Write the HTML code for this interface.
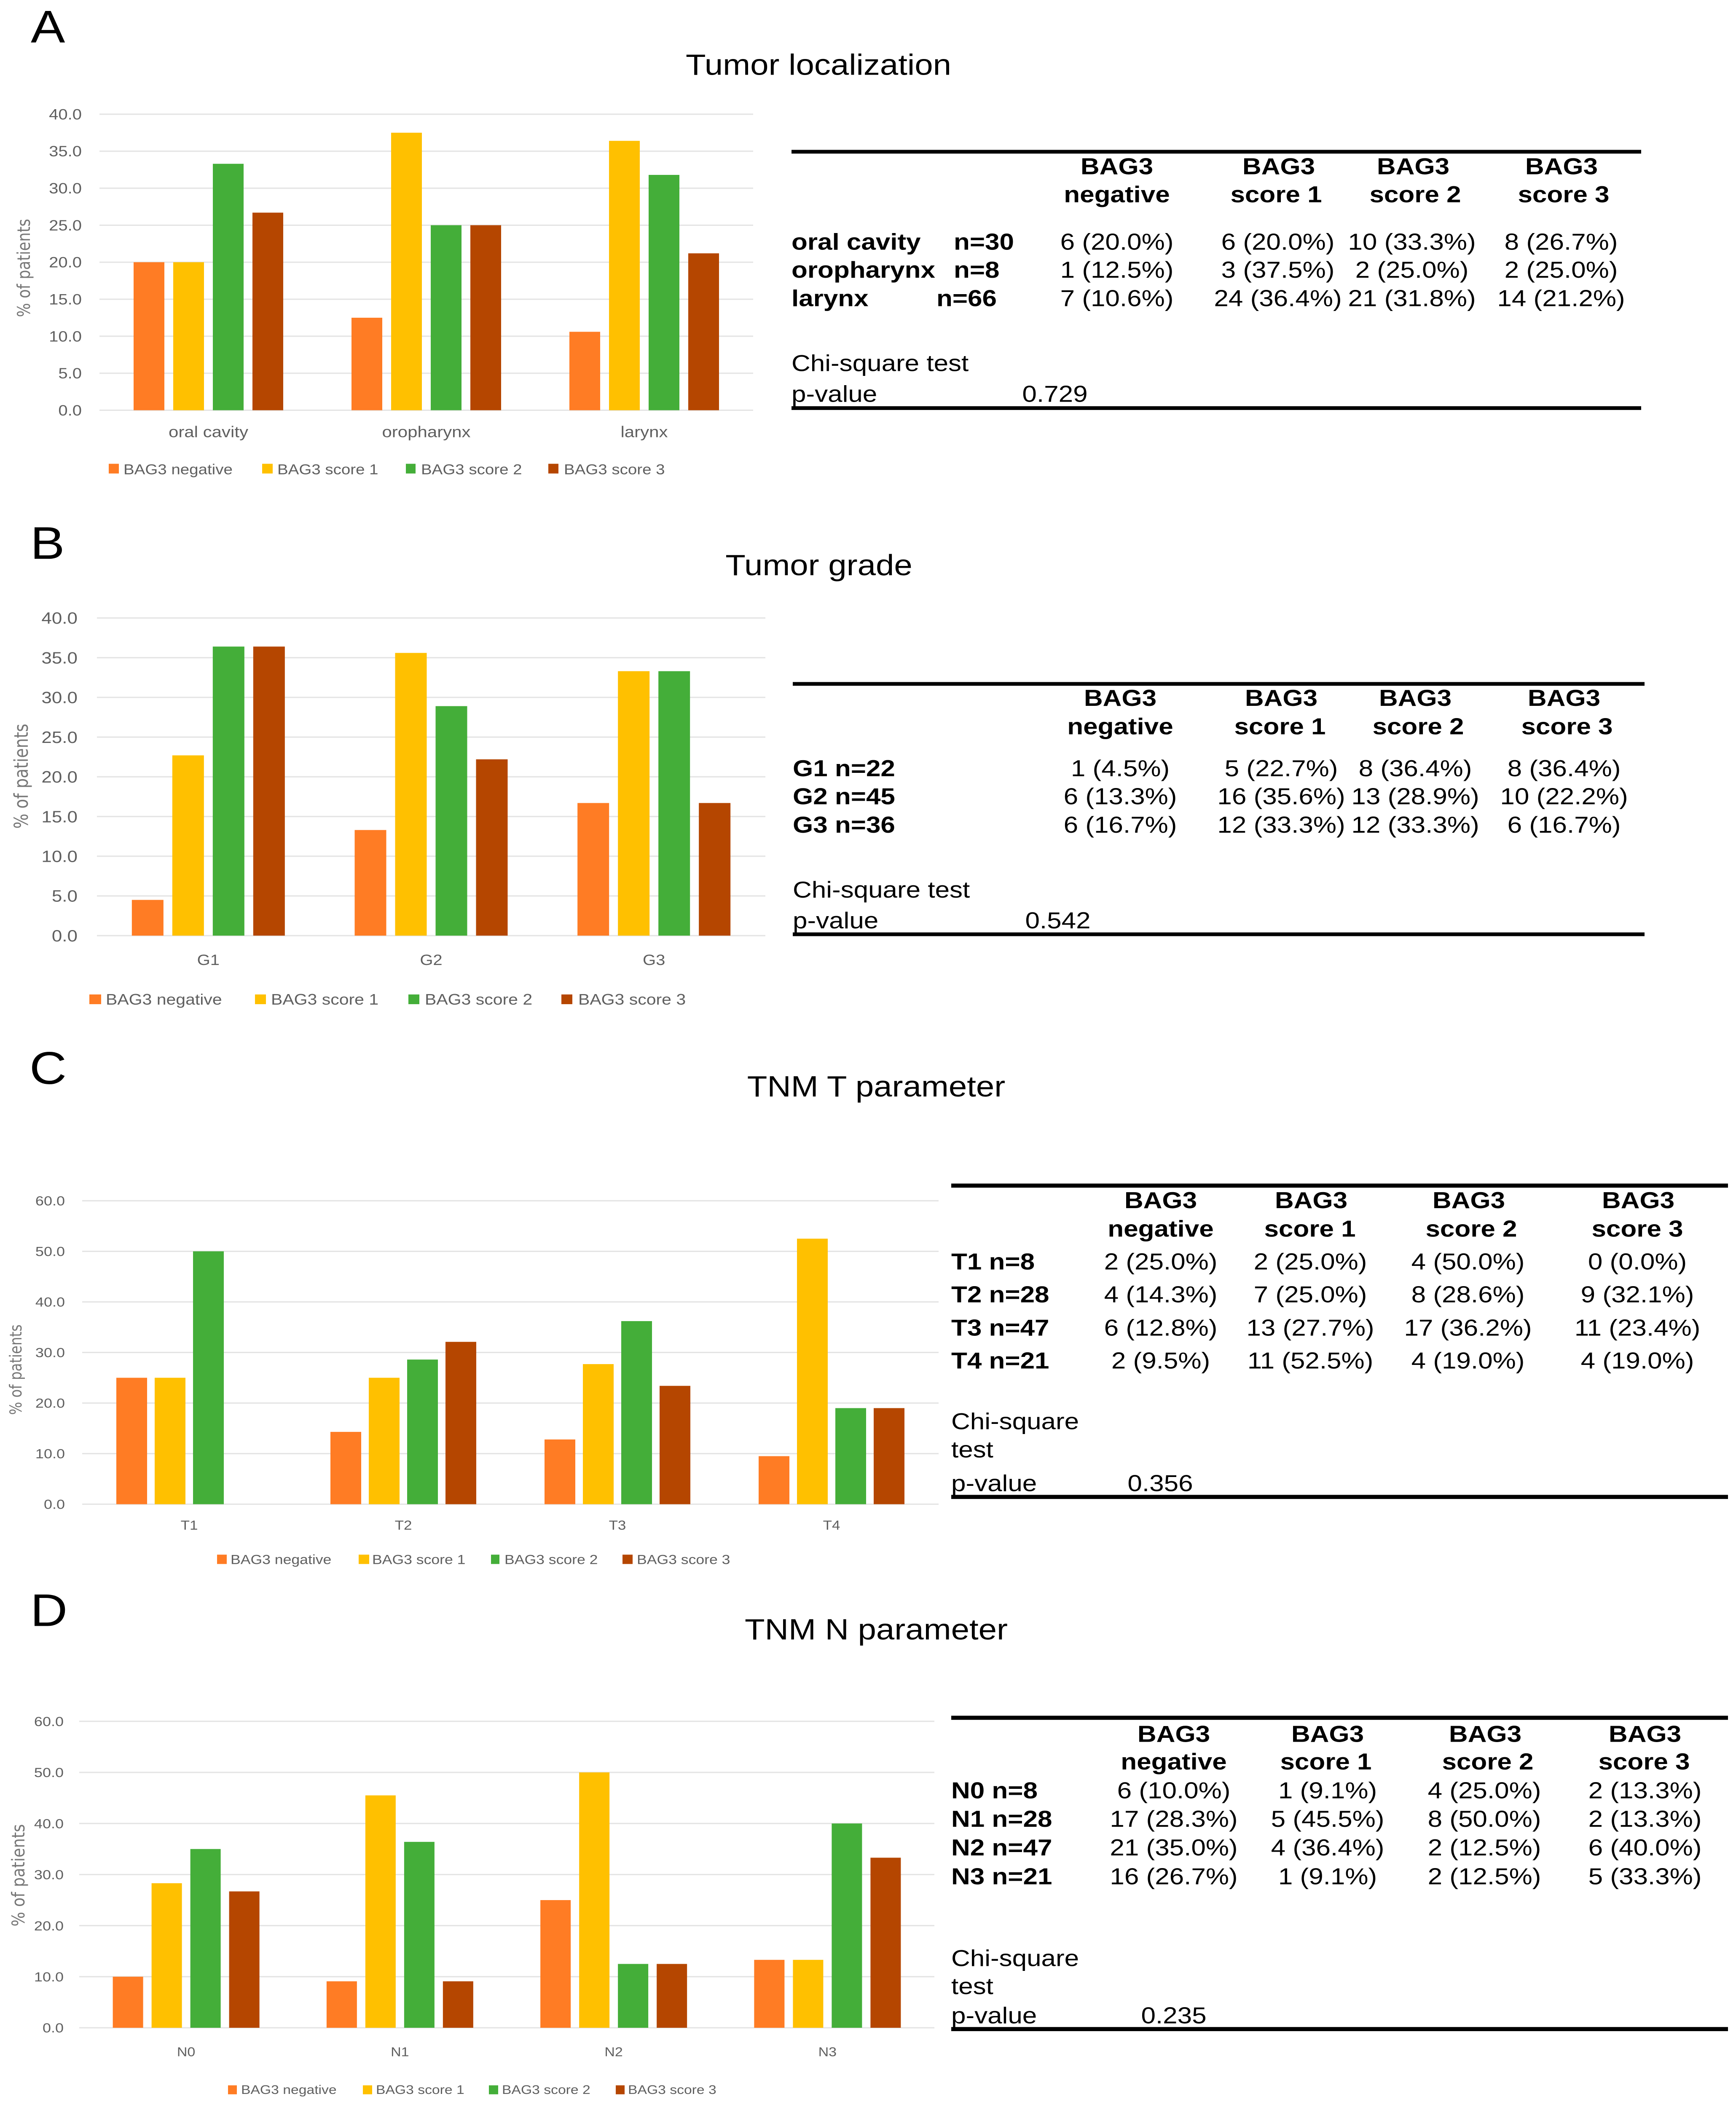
<!DOCTYPE html>
<html lang="en">
<head>
<meta charset="utf-8">
<title>BAG3 expression by tumor parameters</title>
<style>
html,body{margin:0;padding:0;background:#fff;width:100%;height:100%;overflow:hidden;}
svg{display:block;position:absolute;left:0;top:0;width:100%;height:100%;}
text{font-family:"Liberation Sans",Arial,sans-serif;fill:#000;}
.panel{font-size:122px;}
.title{font-size:78px;text-anchor:middle;}
.h{font-size:62px;font-weight:700;text-anchor:middle;}
.r{font-size:62px;font-weight:700;}
.c{font-size:62px;text-anchor:middle;}
.l{font-size:62px;}
.rule{fill:#000;}
.tick,.cat,.leg{fill:#5f5f5f;}
.ytitle{font-family:"DejaVu Sans",sans-serif;fill:#777;text-anchor:middle;}
</style>
</head>
<body>
<svg xmlns="http://www.w3.org/2000/svg" viewBox="0 0 4119 5638" preserveAspectRatio="none">
<rect x="0" y="0" width="4119" height="5638" fill="#fff"/>

<!-- PANEL A -->
<g>
<text class="panel" x="73" y="114">A</text>
<text class="title" x="1942" y="200">Tumor localization</text>
<g id="chart-a"></g>
<text class="ytitle" style="font-size:42px" transform="translate(71,717) rotate(-90)" textLength="263" lengthAdjust="spacingAndGlyphs">% of patients</text>
<g font-size="38.5">
<rect x="258" y="1241" width="24" height="26" fill="#FF7C24"/>
<text class="leg" x="293" y="1269" font-size="38.5">BAG3 negative</text>
<rect x="622" y="1241" width="25" height="26" fill="#FFC000"/>
<text class="leg" x="658" y="1269" font-size="38.5">BAG3 score 1</text>
<rect x="963" y="1241" width="23" height="26" fill="#44AE39"/>
<text class="leg" x="999" y="1269" font-size="38.5">BAG3 score 2</text>
<rect x="1301" y="1241" width="24" height="26" fill="#B54600"/>
<text class="leg" x="1338" y="1269" font-size="38.5">BAG3 score 3</text>
</g>
<g>
<rect class="rule" x="1878" y="401" width="2016" height="10"/>
<text class="h" x="2650" y="466">BAG3<tspan x="2650" y="541">negative</tspan></text>
<text class="h" x="3034" y="466">BAG3<tspan x="3028" y="541">score 1</tspan></text>
<text class="h" x="3353" y="466">BAG3<tspan x="3358" y="541">score 2</tspan></text>
<text class="h" x="3705" y="466">BAG3<tspan x="3710" y="541">score 3</tspan></text>
<text class="r" x="1878" y="668">oral cavity<tspan x="2263">n=30</tspan></text>
<text class="c" x="2650" y="668">6 (20.0%)</text>
<text class="c" x="3032" y="668">6 (20.0%)</text>
<text class="c" x="3350" y="668">10 (33.3%)</text>
<text class="c" x="3704" y="668">8 (26.7%)</text>
<text class="r" x="1878" y="743">oropharynx<tspan x="2263">n=8</tspan></text>
<text class="c" x="2650" y="743">1 (12.5%)</text>
<text class="c" x="3032" y="743">3 (37.5%)</text>
<text class="c" x="3350" y="743">2 (25.0%)</text>
<text class="c" x="3704" y="743">2 (25.0%)</text>
<text class="r" x="1878" y="819">larynx<tspan x="2222">n=66</tspan></text>
<text class="c" x="2650" y="819">7 (10.6%)</text>
<text class="c" x="3032" y="819">24 (36.4%)</text>
<text class="c" x="3350" y="819">21 (31.8%)</text>
<text class="c" x="3704" y="819">14 (21.2%)</text>
<text class="l" x="1878" y="993">Chi-square test</text>
<text class="l" x="1878" y="1075">p-value</text>
<text class="c" x="2503" y="1075">0.729</text>
<rect class="rule" x="1878" y="1087" width="2016" height="10"/>
</g>
</g>

<!-- PANEL B -->
<g>
<text class="panel" x="72" y="1495">B</text>
<text class="title" x="1943" y="1539">Tumor grade</text>
<g id="chart-b"></g>
<text class="ytitle" style="font-size:45px" transform="translate(66,2077) rotate(-90)" textLength="281" lengthAdjust="spacingAndGlyphs">% of patients</text>
<g>
<rect x="212" y="2661" width="28" height="26" fill="#FF7C24"/>
<text class="leg" x="251" y="2688" font-size="41">BAG3 negative</text>
<rect x="605" y="2661" width="26" height="26" fill="#FFC000"/>
<text class="leg" x="643" y="2688" font-size="41">BAG3 score 1</text>
<rect x="969" y="2661" width="26" height="26" fill="#44AE39"/>
<text class="leg" x="1008" y="2688" font-size="41">BAG3 score 2</text>
<rect x="1332" y="2661" width="26" height="26" fill="#B54600"/>
<text class="leg" x="1372" y="2688" font-size="41">BAG3 score 3</text>
</g>
<g>
<rect class="rule" x="1881" y="1825" width="2021" height="10"/>
<text class="h" x="2658" y="1889">BAG3<tspan x="2658" y="1965">negative</tspan></text>
<text class="h" x="3040" y="1889">BAG3<tspan x="3037" y="1965">score 1</tspan></text>
<text class="h" x="3358" y="1889">BAG3<tspan x="3365" y="1965">score 2</tspan></text>
<text class="h" x="3711" y="1889">BAG3<tspan x="3718" y="1965">score 3</tspan></text>
<text class="r" x="1881" y="2077">G1 n=22</text>
<text class="c" x="2658" y="2077">1 (4.5%)</text>
<text class="c" x="3040" y="2077">5 (22.7%)</text>
<text class="c" x="3358" y="2077">8 (36.4%)</text>
<text class="c" x="3711" y="2077">8 (36.4%)</text>
<text class="r" x="1881" y="2152">G2 n=45</text>
<text class="c" x="2658" y="2152">6 (13.3%)</text>
<text class="c" x="3040" y="2152">16 (35.6%)</text>
<text class="c" x="3358" y="2152">13 (28.9%)</text>
<text class="c" x="3711" y="2152">10 (22.2%)</text>
<text class="r" x="1881" y="2228">G3 n=36</text>
<text class="c" x="2658" y="2228">6 (16.7%)</text>
<text class="c" x="3040" y="2228">12 (33.3%)</text>
<text class="c" x="3358" y="2228">12 (33.3%)</text>
<text class="c" x="3711" y="2228">6 (16.7%)</text>
<text class="l" x="1881" y="2402">Chi-square test</text>
<text class="l" x="1881" y="2484">p-value</text>
<text class="c" x="2510" y="2484">0.542</text>
<rect class="rule" x="1881" y="2495" width="2021" height="10"/>
</g>
</g>

<!-- PANEL C -->
<g>
<text class="panel" x="70" y="2900">C</text>
<text class="title" x="2079" y="2934">TNM T parameter</text>
<g id="chart-c"></g>
<text class="ytitle" style="font-size:39px" transform="translate(51,3665) rotate(-90)" textLength="242" lengthAdjust="spacingAndGlyphs">% of patients</text>
<g>
<rect x="515" y="4160" width="23" height="25" fill="#FF7C24"/>
<text class="leg" x="547" y="4185" font-size="35.6">BAG3 negative</text>
<rect x="851" y="4160" width="25" height="25" fill="#FFC000"/>
<text class="leg" x="883" y="4185" font-size="35.6">BAG3 score 1</text>
<rect x="1165" y="4160" width="20" height="25" fill="#44AE39"/>
<text class="leg" x="1197" y="4185" font-size="35.6">BAG3 score 2</text>
<rect x="1477" y="4160" width="24" height="25" fill="#B54600"/>
<text class="leg" x="1511" y="4185" font-size="35.6">BAG3 score 3</text>
</g>
<g>
<rect class="rule" x="2257" y="3167" width="1843" height="11"/>
<text class="h" x="2754" y="3233">BAG3<tspan x="2754" y="3309">negative</tspan></text>
<text class="h" x="3111" y="3233">BAG3<tspan x="3108" y="3309">score 1</tspan></text>
<text class="h" x="3485" y="3233">BAG3<tspan x="3491" y="3309">score 2</tspan></text>
<text class="h" x="3887" y="3233">BAG3<tspan x="3885" y="3309">score 3</tspan></text>
<text class="r" x="2257" y="3397">T1 n=8</text>
<text class="c" x="2754" y="3397">2 (25.0%)</text>
<text class="c" x="3109" y="3397">2 (25.0%)</text>
<text class="c" x="3483" y="3397">4 (50.0%)</text>
<text class="c" x="3885" y="3397">0 (0.0%)</text>
<text class="r" x="2257" y="3485">T2 n=28</text>
<text class="c" x="2754" y="3485">4 (14.3%)</text>
<text class="c" x="3109" y="3485">7 (25.0%)</text>
<text class="c" x="3483" y="3485">8 (28.6%)</text>
<text class="c" x="3885" y="3485">9 (32.1%)</text>
<text class="r" x="2257" y="3574">T3 n=47</text>
<text class="c" x="2754" y="3574">6 (12.8%)</text>
<text class="c" x="3109" y="3574">13 (27.7%)</text>
<text class="c" x="3483" y="3574">17 (36.2%)</text>
<text class="c" x="3885" y="3574">11 (23.4%)</text>
<text class="r" x="2257" y="3662">T4 n=21</text>
<text class="c" x="2754" y="3662">2 (9.5%)</text>
<text class="c" x="3109" y="3662">11 (52.5%)</text>
<text class="c" x="3483" y="3662">4 (19.0%)</text>
<text class="c" x="3885" y="3662">4 (19.0%)</text>
<text class="l" x="2257" y="3824">Chi-square<tspan x="2257" y="3900">test</tspan></text>
<text class="l" x="2257" y="3990">p-value</text>
<text class="c" x="2753" y="3990">0.356</text>
<rect class="rule" x="2257" y="4000" width="1843" height="11"/>
</g>
</g>

<!-- PANEL D -->
<g>
<text class="panel" x="72" y="4351">D</text>
<text class="title" x="2079" y="4387">TNM N parameter</text>
<g id="chart-d"></g>
<text class="ytitle" style="font-size:42px" transform="translate(58,5018) rotate(-90)" textLength="274" lengthAdjust="spacingAndGlyphs">% of patients</text>
<g>
<rect x="541" y="5580" width="21" height="24" fill="#FF7C24"/>
<text class="leg" x="572" y="5603" font-size="33.7">BAG3 negative</text>
<rect x="861" y="5580" width="22" height="24" fill="#FFC000"/>
<text class="leg" x="892" y="5603" font-size="33.7">BAG3 score 1</text>
<rect x="1160" y="5580" width="22" height="24" fill="#44AE39"/>
<text class="leg" x="1191" y="5603" font-size="33.7">BAG3 score 2</text>
<rect x="1461" y="5580" width="21" height="24" fill="#B54600"/>
<text class="leg" x="1490" y="5603" font-size="33.7">BAG3 score 3</text>
</g>
<g>
<rect class="rule" x="2257" y="4591" width="1843" height="11"/>
<text class="h" x="2785" y="4661">BAG3<tspan x="2785" y="4735">negative</tspan></text>
<text class="h" x="3150" y="4661">BAG3<tspan x="3146" y="4735">score 1</tspan></text>
<text class="h" x="3524" y="4661">BAG3<tspan x="3530" y="4735">score 2</tspan></text>
<text class="h" x="3903" y="4661">BAG3<tspan x="3901" y="4735">score 3</tspan></text>
<text class="r" x="2257" y="4812">N0 n=8</text>
<text class="c" x="2785" y="4812">6 (10.0%)</text>
<text class="c" x="3150" y="4812">1 (9.1%)</text>
<text class="c" x="3522" y="4812">4 (25.0%)</text>
<text class="c" x="3903" y="4812">2 (13.3%)</text>
<text class="r" x="2257" y="4888">N1 n=28</text>
<text class="c" x="2785" y="4888">17 (28.3%)</text>
<text class="c" x="3150" y="4888">5 (45.5%)</text>
<text class="c" x="3522" y="4888">8 (50.0%)</text>
<text class="c" x="3903" y="4888">2 (13.3%)</text>
<text class="r" x="2257" y="4965">N2 n=47</text>
<text class="c" x="2785" y="4965">21 (35.0%)</text>
<text class="c" x="3150" y="4965">4 (36.4%)</text>
<text class="c" x="3522" y="4965">2 (12.5%)</text>
<text class="c" x="3903" y="4965">6 (40.0%)</text>
<text class="r" x="2257" y="5042">N3 n=21</text>
<text class="c" x="2785" y="5042">16 (26.7%)</text>
<text class="c" x="3150" y="5042">1 (9.1%)</text>
<text class="c" x="3522" y="5042">2 (12.5%)</text>
<text class="c" x="3903" y="5042">5 (33.3%)</text>
<text class="l" x="2257" y="5261">Chi-square<tspan x="2257" y="5336">test</tspan></text>
<text class="l" x="2257" y="5414">p-value</text>
<text class="c" x="2785" y="5414">0.235</text>
<rect class="rule" x="2257" y="5424" width="1843" height="11"/>
</g>
</g>
</svg>

<script>
// Shared
const seriesColors = ['#FF7C24', '#FFC000', '#44AE39', '#B54600'];
const seriesKeys = ['negative', 'score-1', 'score-2', 'score-3'];

// Chart A: tumor localization
const categoriesA = ['oral cavity', 'oropharynx', 'larynx'];
const negativeA = [20.0, 12.5, 10.6];
const score1A = [20.0, 37.5, 36.4];
const score2A = [33.3, 25.0, 31.8];
const score3A = [26.7, 25.0, 21.2];
const tickLabelsA = ['0.0', '5.0', '10.0', '15.0', '20.0', '25.0', '30.0', '35.0', '40.0'];

// Chart B: tumor grade
const categoriesB = ['G1', 'G2', 'G3'];
const negativeB = [4.5, 13.3, 16.7];
const score1B = [22.7, 35.6, 33.3];
const score2B = [36.4, 28.9, 33.3];
const score3B = [36.4, 22.2, 16.7];
const tickLabelsB = ['0.0', '5.0', '10.0', '15.0', '20.0', '25.0', '30.0', '35.0', '40.0'];

// Chart C: TNM T parameter
const categoriesC = ['T1', 'T2', 'T3', 'T4'];
const negativeC = [25.0, 14.3, 12.8, 9.5];
const score1C = [25.0, 25.0, 27.7, 52.5];
const score2C = [50.0, 28.6, 36.2, 19.0];
const score3C = [0.0, 32.1, 23.4, 19.0];
const tickLabelsC = ['0.0', '10.0', '20.0', '30.0', '40.0', '50.0', '60.0'];

// Chart D: TNM N parameter
const categoriesD = ['N0', 'N1', 'N2', 'N3'];
const negativeD = [10.0, 9.1, 25.0, 13.3];
const score1D = [28.3, 45.5, 50.0, 13.3];
const score2D = [35.0, 36.4, 12.5, 40.0];
const score3D = [26.7, 9.1, 12.5, 33.3];
const tickLabelsD = ['0.0', '10.0', '20.0', '30.0', '40.0', '50.0', '60.0'];

const NS = 'http://www.w3.org/2000/svg';

function drawChart(id, categories, series, tickLabels, box) {
  const root = document.getElementById(id);
  const tickValues = tickLabels.map(Number);
  const maxTick = Math.max.apply(null, tickValues);
  const yScale = function (v) { return box.bottom - (v / maxTick) * (box.bottom - box.top); };
  const band = (box.right - box.left) / categories.length;
  const groupWidth = box.barWidth + box.barPitch * (series.length - 1);
  const xBar = function (c, s) { return box.left + band * c + (band - groupWidth) / 2 + box.barPitch * s; };
  const xCenter = function (c) { return box.left + band * c + band / 2; };

  tickLabels.forEach(function (label, i) {
    const y = yScale(tickValues[i]);
    const line = document.createElementNS(NS, 'rect');
    line.setAttribute('x', box.left);
    line.setAttribute('y', y - 1.75);
    line.setAttribute('width', box.right - box.left);
    line.setAttribute('height', 3.5);
    line.setAttribute('fill', '#e4e4e4');
    
    
    root.appendChild(line);

    const t = document.createElementNS(NS, 'text');
    t.setAttribute('class', 'tick');
    t.setAttribute('x', box.tickRight);
    t.setAttribute('y', y + box.tickSize * 0.35);
    t.setAttribute('text-anchor', 'end');
    t.setAttribute('font-size', box.tickSize);
    
    
    t.textContent = label;
    root.appendChild(t);
  });

  categories.forEach(function (name, c) {
    series.forEach(function (values, s) {
      const top = yScale(values[c]);
      const bar = document.createElementNS(NS, 'rect');
      bar.setAttribute('x', xBar(c, s));
      bar.setAttribute('y', top);
      bar.setAttribute('width', box.barWidth);
      bar.setAttribute('height', Math.max(0, yScale(0) - top));
      bar.setAttribute('fill', seriesColors[s]);
      
      
      root.appendChild(bar);
    });
    const t = document.createElementNS(NS, 'text');
    t.setAttribute('class', 'cat');
    t.setAttribute('x', xCenter(c));
    t.setAttribute('y', box.catY);
    t.setAttribute('text-anchor', 'middle');
    t.setAttribute('font-size', box.catSize);
    
    
    t.textContent = name;
    root.appendChild(t);
  });
}

drawChart('chart-a', categoriesA, [negativeA, score1A, score2A, score3A], tickLabelsA,
  { left: 236, right: 1787, top: 305.6, bottom: 1097.7, barWidth: 73, barPitch: 94, tickRight: 194, tickSize: 40, catY: 1170, catSize: 42 });
drawChart('chart-b', categoriesB, [negativeB, score1B, score2B, score3B], tickLabelsB,
  { left: 230, right: 1816, top: 1653.6, bottom: 2503.6, barWidth: 75, barPitch: 96, tickRight: 184, tickSize: 44, catY: 2582, catSize: 40 });
drawChart('chart-c', categoriesC, [negativeC, score1C, score2C, score3C], tickLabelsC,
  { left: 195, right: 2227, top: 3213, bottom: 4025, barWidth: 73, barPitch: 91, tickRight: 154, tickSize: 36, catY: 4093, catSize: 35 });
drawChart('chart-d', categoriesD, [negativeD, score1D, score2D, score3D], tickLabelsD,
  { left: 188, right: 2217, top: 4606, bottom: 5426, barWidth: 72, barPitch: 92, tickRight: 151, tickSize: 36, catY: 5502, catSize: 34 });
</script>
</body>
</html>
